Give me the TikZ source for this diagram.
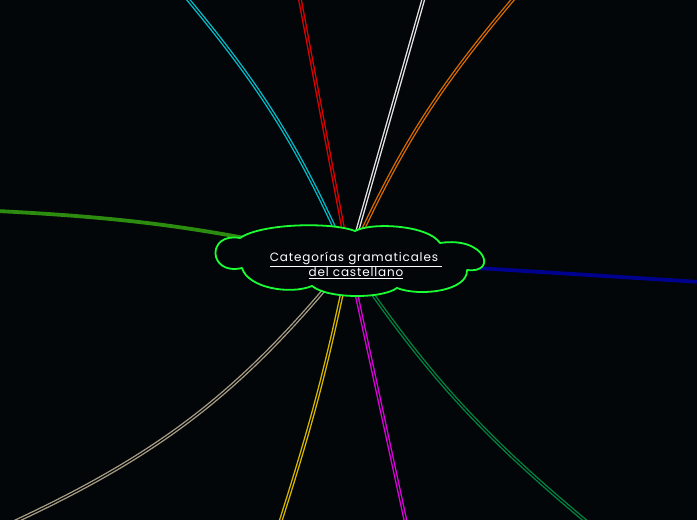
\documentclass[tikz,border=0pt]{standalone}
\usepackage{fontspec}
\setmainfont{Poppins}[LetterSpace=7]

\newlength{\du}
\setlength{\du}{1pt}

\definecolor{bgcolor}{rgb}{0.012, 0.024, 0.031}
\definecolor{cloudcolor}{rgb}{0.100, 1.000, 0.200}
\definecolor{cyancolor}{rgb}{0.000, 0.740, 0.800}
\definecolor{redcolor}{rgb}{0.880, 0.000, 0.000}
\definecolor{whitecolor}{rgb}{0.900, 0.900, 0.900}
\definecolor{orangecolor}{rgb}{0.850, 0.420, 0.000}
\definecolor{grasscolor}{rgb}{0.170, 0.550, 0.060}
\definecolor{bluecolor}{rgb}{0.000, 0.000, 0.560}
\definecolor{tancolor}{rgb}{0.660, 0.610, 0.520}
\definecolor{yellowcolor}{rgb}{0.850, 0.720, 0.000}
\definecolor{magentacolor}{rgb}{0.880, 0.000, 0.880}
\definecolor{tealcolor}{rgb}{0.000, 0.520, 0.260}

\tikzset{
  branch/.style={draw=#1, line width=1.35\du, double=bgcolor, double distance=1.2\du},
  heavybranch/.style={draw=#1, line width=3.8\du},
  cloudline/.style={draw=cloudcolor, line width=1.8\du, fill=bgcolor, line join=round},
  topic/.style={text=white, align=center, inner sep=0pt,
    font=\fontsize{12}{14}\selectfont}
}

\begin{document}
\begin{tikzpicture}
\fill[bgcolor] (0\du,0\du) rectangle (697\du,520\du);
\useasboundingbox (0\du,0\du) rectangle (697\du,520\du);
% free ends of the branches
\coordinate (hub) at (349\du,260\du);
\coordinate (cyanend) at (186\du,523\du);
\coordinate (redend) at (299.5\du,523\du);
\coordinate (whiteend) at (424\du,523\du);
\coordinate (orangeend) at (515\du,523\du);
\coordinate (grassend) at (-3\du,309\du);
\coordinate (blueend) at (700\du,238\du);
\coordinate (tanend) at (12\du,-3\du);
\coordinate (yellowend) at (280\du,-3\du);
\coordinate (magentaend) at (406\du,-3\du);
\coordinate (tealend) at (588\du,-3\du);
% branches
\draw[branch=cyancolor] (hub) to[bend right=8] (cyanend);
\draw[branch=redcolor] (hub) -- (redend);
\draw[branch=whitecolor] (hub) -- (whiteend);
\draw[branch=orangecolor] (hub) to[bend left=8] (orangeend);
\draw[heavybranch=grasscolor] (hub) to[bend right=5] (grassend);
\draw[heavybranch=bluecolor] (hub) -- (blueend);
\draw[branch=tancolor] (hub) to[bend left=13] (tanend);
\draw[branch=yellowcolor] (hub) to[bend left=3] (yellowend);
\draw[branch=magentacolor] (hub) -- (magentaend);
\draw[branch=tealcolor] (hub) to[bend right=8] (tealend);
% central topic cloud
\path[cloudline] (240\du,282\du)
  .. controls (262\du,297\du) and (332\du,298\du) .. (355\du,289\du)
  .. controls (372\du,298\du) and (428\du,295\du) .. (440\du,277\du)
  .. controls (486\du,284\du) and (498\du,246\du) .. (467\du,250\du)
  .. controls (468\du,229\du) and (420\du,223\du) .. (397\du,232\du)
  .. controls (382\du,221\du) and (328\du,221\du) .. (312\du,234\du)
  .. controls (290\du,225\du) and (248\du,232\du) .. (242\du,252\du)
  .. controls (208\du,244\du) and (206\du,288\du) .. cycle;
\node[topic] (castellano) at (356\du,255\du) {\underline{Categorías gramaticales\ }\\\underline{del castellano}};
\end{tikzpicture}
\end{document}
